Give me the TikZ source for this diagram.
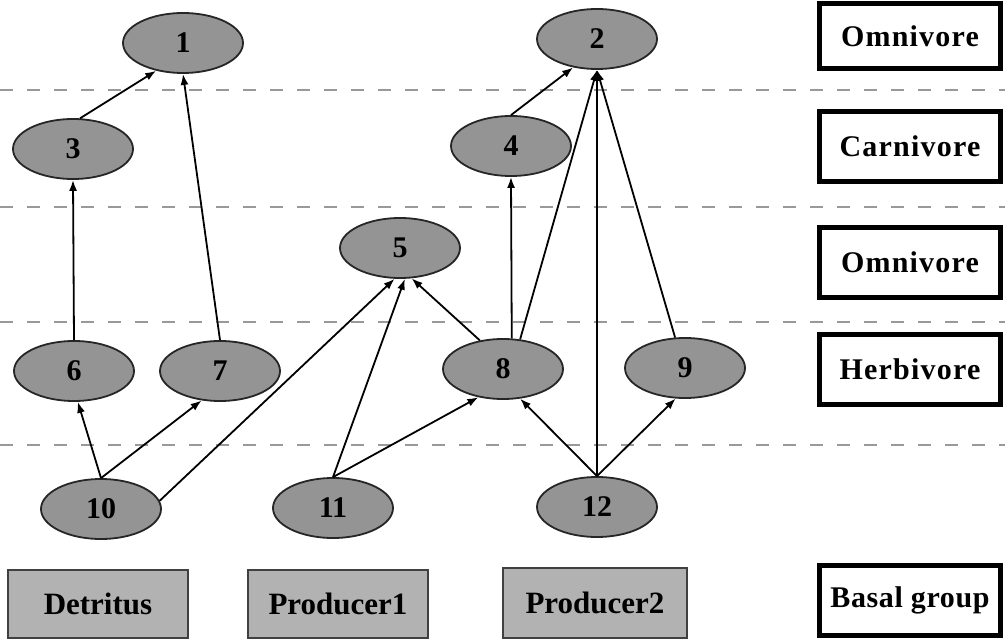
\documentclass[tikz,border=0pt]{standalone}
\usepackage{fontspec}
\setmainfont{Liberation Serif}
\usetikzlibrary{shapes.geometric,arrows.meta}
\begin{document}
\begin{tikzpicture}[x=1pt,y=-1pt,
  sp/.style={ellipse,draw=black!85,line width=1.8pt,fill=black!42,minimum width=120pt,minimum height=60pt,inner sep=0pt,font=\fontsize{30}{32}\selectfont\bfseries},
  lvl/.style={draw=black,line width=5pt,fill=white,minimum width=181pt,minimum height=70pt,inner sep=0pt,font=\fontsize{30}{32}\selectfont\bfseries\addfontfeature{LetterSpace=4}},
  basal/.style={draw=black!75,line width=1.5pt,fill=black!30,minimum width=180pt,minimum height=68pt,inner sep=0pt,font=\fontsize{31}{33}\selectfont\bfseries},
  sep/.style={draw=black!40,line width=1.8pt,dash pattern=on 13pt off 14pt},
  arr/.style={draw=black,line width=1.8pt,-{Latex[length=11pt,width=8pt]}}
]
\useasboundingbox (0,0) rectangle (1005,639);
% level separators
\foreach \yy in {90,207,322,445} {\draw[sep] (0,\yy) -- (1005,\yy);}
% species
\node[sp] (n1) at (183,43) {1};
\node[sp] (n2) at (597,39) {2};
\node[sp] (n3) at (73,149) {3};
\node[sp] (n4) at (511,146) {4};
\node[sp] (n5) at (400,248) {5};
\node[sp] (n6) at (74,371) {6};
\node[sp] (n7) at (220,371) {7};
\node[sp] (n8) at (503,369) {8};
\node[sp] (n9) at (685,368) {9};
\node[sp] (n10) at (101,509) {10};
\node[sp] (n11) at (333,508) {11};
\node[sp] (n12) at (597,507) {12};
% level labels
\node[lvl,minimum height=65pt] (l1) at (910,36) {Omnivore};
\node[lvl] (l2) at (910,146.5) {Carnivore};
\node[lvl] (l3) at (910,262.5) {Omnivore};
\node[lvl] (l4) at (910,369.5) {Herbivore};
\node[lvl,font=\fontsize{30}{32}\selectfont\bfseries\addfontfeature{LetterSpace=2}] (l5) at (910,600.5) {Basal group};
% basal groups
\node[basal] (b1) at (98,604) {Detritus};
\node[basal] (b2) at (338,604) {Producer1};
\node[basal,minimum width=184pt,minimum height=70pt] (b3) at (595,603) {Producer2};
% links
\draw[arr] (n3.77) -- (n1.226);
\draw[arr] (n7.north) -- (n1.south);
\draw[arr] (n6.north) -- (n3.south);
\draw[arr] (n4.north) -- (n2.230);
\draw[arr] (n8.74) -- (n4.south);
\draw[arr] (n8.60) -- (n2.south);
\draw[arr] (n12.north) -- (n2.south);
\draw[arr] (n9.108) -- (n2.south);
\draw[arr] (n8.129) -- (n5.291);
\draw[arr] (n10.8) -- (n5.260);
\draw[arr] (n11.north) -- (n5.279);
\draw[arr] (n10.north) -- (n6.277);
\draw[arr] (n10.north) -- (n7.238);
\draw[arr] (n11.north) -- (n8.229);
\draw[arr] (n12.north) -- (n8.300);
\draw[arr] (n12.north) -- (n9.253);
\end{tikzpicture}
\end{document}
